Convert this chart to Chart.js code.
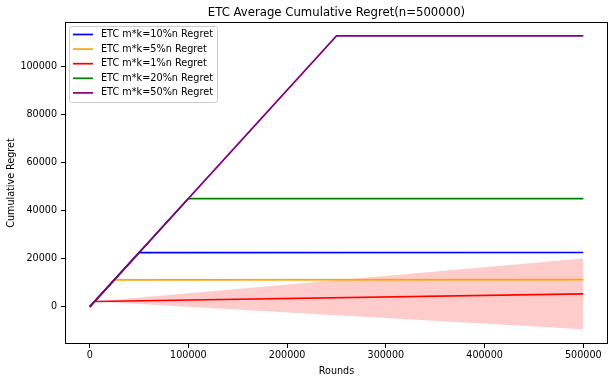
<!DOCTYPE html>
<html>
<head>
<meta charset="utf-8">
<script src="https://cdn.jsdelivr.net/npm/chart.js@4.4.1/dist/chart.umd.min.js"></script>
<style>
  html, body { margin: 0; padding: 0; background: #fff; }
  #wrap { width: 614px; height: 382px; }
</style>
</head>
<body>
<div id="wrap"><canvas id="regretChart" width="614" height="382"></canvas></div>
<script>
// series data (rounds -> average cumulative regret), breakpoints of each curve
const seriesLabels = ['ETC m*k=10%n Regret', 'ETC m*k=5%n Regret', 'ETC m*k=1%n Regret', 'ETC m*k=20%n Regret', 'ETC m*k=50%n Regret'];
const seriesColors = ['#0000ff', '#ffa500', '#ff0000', '#008000', '#800080'];

const etc10Rounds = [0, 50000, 500000];
const etc10Regret = [0, 22500, 22600];
const etc5Rounds = [0, 25000, 500000];
const etc5Regret = [0, 11250, 11300];
const etc1Rounds = [0, 5000, 500000];
const etc1Regret = [0, 2250, 5400];
const etc20Rounds = [0, 100000, 500000];
const etc20Regret = [0, 45000, 45000];
const etc50Rounds = [0, 250000, 500000];
const etc50Regret = [0, 112500, 112500];

// shaded band around the 1% curve
const bandRounds = [5000, 500000];
const bandUpper = [2250, 20100];
const bandLower = [2250, -9300];

const xTicks = [0, 100000, 200000, 300000, 400000, 500000];
const yTicks = [0, 20000, 40000, 60000, 80000, 100000];

const FONT = 'DejaVu Sans';

function pts(xs, ys) {
  return xs.map((x, i) => ({ x: x, y: ys[i] }));
}

const allRounds = [etc10Rounds, etc5Rounds, etc1Rounds, etc20Rounds, etc50Rounds];
const allRegret = [etc10Regret, etc5Regret, etc1Regret, etc20Regret, etc50Regret];

const lineSets = seriesLabels.map((label, i) => ({
  label: label,
  data: pts(allRounds[i], allRegret[i]),
  borderColor: seriesColors[i],
  backgroundColor: seriesColors[i],
  borderWidth: 1.7,
  pointRadius: 0,
  fill: false,
  order: 10 - i
}));

const bandSets = [
  {
    label: 'band-lower',
    data: pts(bandRounds, bandLower),
    borderWidth: 0,
    pointRadius: 0,
    fill: false,
    order: 20
  },
  {
    label: 'band-upper',
    data: pts(bandRounds, bandUpper),
    borderWidth: 0,
    pointRadius: 0,
    backgroundColor: 'rgba(255,0,0,0.2)',
    fill: '-1',
    order: 20
  }
];

// frame, title and matplotlib-like legend
const mplDecor = {
  id: 'mplDecor',
  afterDraw(chart) {
    const { ctx, chartArea: { left, right, top, bottom } } = chart;
    ctx.save();
    ctx.strokeStyle = '#000';
    ctx.lineWidth = 1;
    ctx.strokeRect(left + 0.5, top + 0.5, right - left - 1, bottom - top - 1);

    ctx.fillStyle = '#000';
    ctx.font = '11.7px ' + FONT;
    ctx.textAlign = 'center';
    ctx.textBaseline = 'middle';
    ctx.fillText('ETC Average Cumulative Regret(n=500000)', (left + right) / 2, 12.5);

    // legend
    const bx = 69, by = 26, bw = 148, bh = 76;
    ctx.fillStyle = 'rgba(255,255,255,0.8)';
    ctx.strokeStyle = '#cccccc';
    ctx.beginPath();
    ctx.roundRect(bx + 0.5, by + 0.5, bw, bh, 2);
    ctx.fill();
    ctx.stroke();
    ctx.font = '9.7px ' + FONT;
    ctx.textAlign = 'left';
    seriesLabels.forEach((label, i) => {
      const yy = 34.5 + i * 14.6;
      ctx.strokeStyle = seriesColors[i];
      ctx.lineWidth = 1.7;
      ctx.beginPath();
      ctx.moveTo(73, yy);
      ctx.lineTo(93, yy);
      ctx.stroke();
      ctx.fillStyle = '#000';
      ctx.fillText(label, 101, yy);
    });
    ctx.restore();
  }
};

new Chart(document.getElementById('regretChart'), {
  type: 'line',
  data: { datasets: bandSets.concat(lineSets) },
  options: {
    responsive: false,
    animation: false,
    layout: { padding: { top: 22, right: 6, left: 0, bottom: 0 } },
    plugins: {
      legend: { display: false },
      title: { display: false },
      tooltip: { enabled: false }
    },
    scales: {
      x: {
        type: 'linear',
        min: -25000,
        max: 525000,
        afterFit: s => { s.height = 38; },
        afterBuildTicks: s => { s.ticks = xTicks.map(v => ({ value: v })); },
        grid: { drawOnChartArea: false, drawTicks: true, tickLength: 4, color: '#000' },
        border: { display: false },
        ticks: { color: '#000', font: { family: FONT, size: 9.6 }, padding: 2, maxRotation: 0, callback: v => String(v) },
        title: { display: true, text: 'Rounds', color: '#000', font: { family: FONT, size: 9.6 }, padding: { top: 0, bottom: 5 } }
      },
      y: {
        type: 'linear',
        min: -15400,
        max: 118300,
        afterFit: s => { s.width = 65; },
        afterBuildTicks: s => { s.ticks = yTicks.map(v => ({ value: v })); },
        grid: { drawOnChartArea: false, drawTicks: true, tickLength: 4, color: '#000' },
        border: { display: false },
        ticks: { color: '#000', font: { family: FONT, size: 9.6 }, padding: 4, callback: v => String(v) },
        title: { display: true, text: 'Cumulative Regret', color: '#000', font: { family: FONT, size: 9.6 }, padding: { top: 6, bottom: 0 } }
      }
    }
  },
  plugins: [mplDecor]
});
</script>
</body>
</html>
